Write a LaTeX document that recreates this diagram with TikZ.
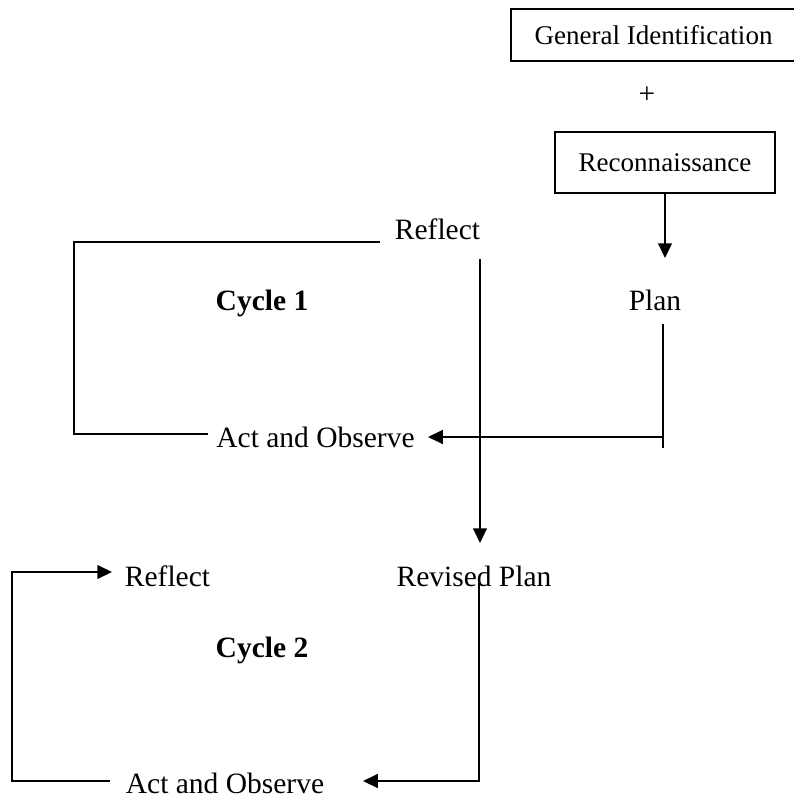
\documentclass[tikz,border=0pt]{standalone}
\usepackage{fontspec}
\setmainfont{Liberation Serif}
\usetikzlibrary{arrows.meta}

\tikzset{
  lbl/.style={font=\fontsize{12}{14}\selectfont, inner sep=0pt, anchor=base},
  boxed/.style={draw, line width=0.8pt, font=\fontsize{11}{13}\selectfont, inner sep=0pt},
  conn/.style={line width=0.8pt},
  flow/.style={conn, -{Triangle[length=6pt,width=5.6pt]}}
}

\begin{document}
\begin{tikzpicture}[x=0.4068pt,y=-0.4068pt]
  \useasboundingbox (0,0) rectangle (793,797);

  \node[boxed, minimum width=116pt, minimum height=21.2pt] (gid) at (653.5,35) {General Identification};
  \node[font=\fontsize{12}{14}\selectfont] (plus) at (647,95) {+};
  \node[boxed, minimum width=89.5pt, minimum height=24.8pt] (recon) at (665,162.5) {Reconnaissance};

  \node[lbl] (refl1) at (437.5,239) {Reflect};
  \node[lbl] (plan) at (655,310) {Plan};
  \node[lbl, font=\fontsize{12}{14}\selectfont\bfseries] (cyc1) at (262,310) {Cycle 1};
  \node[lbl] (act1) at (315.5,447) {Act and Observe};

  \node[lbl] (rplan) at (474,586) {Revised Plan};
  \node[lbl] (refl2) at (167.5,586) {Reflect};
  \node[lbl, font=\fontsize{12}{14}\selectfont\bfseries] (cyc2) at (262,657) {Cycle 2};
  \node[lbl] (act2) at (225,793) {Act and Observe};

  % cycle 1
  \coordinate (planin) at (663,258);
  \coordinate (planout) at (663,324);
  \coordinate (planend) at (663,448);
  \coordinate (act1in) at (428,437);
  \coordinate (c1a) at (380,242);
  \coordinate (c1b) at (74,242);
  \coordinate (c1c) at (74,434);
  \coordinate (c1d) at (208,434);
  \coordinate (r1out) at (480,259);
  \coordinate (rpin) at (480,543);

  \draw[flow] (recon.south |- 0,193) -- (recon.south |- planin);
  \draw[conn] (planout) -- (planend);
  \draw[flow] (planout |- act1in) -- (act1in);
  \draw[conn] (c1a) -- (c1b) -- (c1c) -- (c1d);
  \draw[flow] (r1out) -- (rpin);

  % cycle 2
  \coordinate (r2out) at (479,583);
  \coordinate (c2a) at (479,781);
  \coordinate (act2in) at (363,781);
  \coordinate (c2b) at (110,781);
  \coordinate (c2c) at (12,781);
  \coordinate (c2d) at (12,572);
  \coordinate (refl2in) at (112,572);

  \draw[flow] (r2out) -- (c2a) -- (act2in);
  \draw[flow] (c2b) -- (c2c) -- (c2d) -- (refl2in);
\end{tikzpicture}
\end{document}
